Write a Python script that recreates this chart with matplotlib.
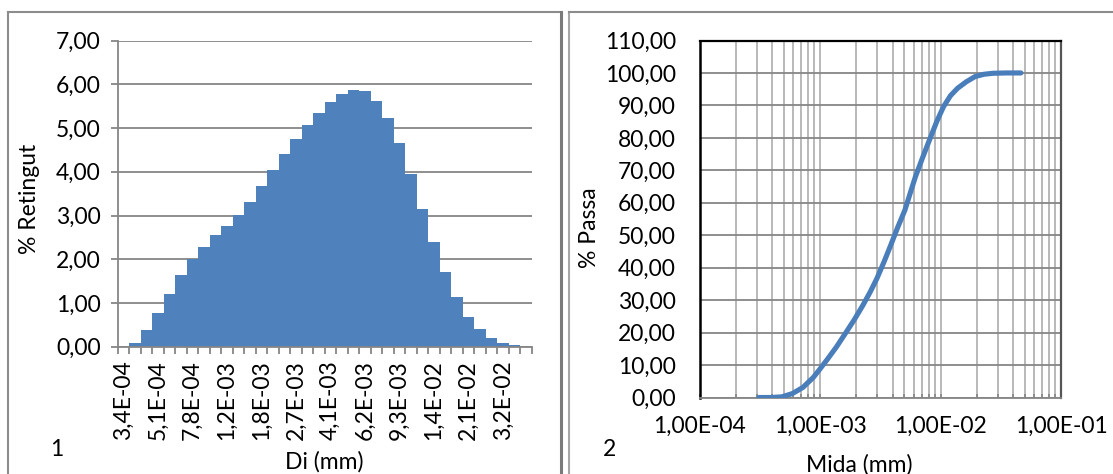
import matplotlib
matplotlib.use('Agg')
import matplotlib.pyplot as plt
from matplotlib.ticker import FixedLocator, LogLocator, NullFormatter, FuncFormatter
from matplotlib.lines import Line2D

plt.rcParams['font.family'] = ['Lato', 'DejaVu Sans']
plt.rcParams['font.size'] = 16.5

# histogram: % retained per size class (36 classes, every 3rd one labelled)
retingut = [0.00, 0.08, 0.39, 0.78, 1.21, 1.63, 2.00, 2.29, 2.55, 2.77,
            3.02, 3.32, 3.67, 4.04, 4.41, 4.76, 5.07, 5.35, 5.59, 5.78,
            5.88, 5.84, 5.63, 5.23, 4.65, 3.94, 3.16, 2.39, 1.71, 1.14,
            0.68, 0.40, 0.20, 0.08, 0.03, 0.00]
di_labels = ['3,4E-04', '5,1E-04', '7,8E-04', '1,2E-03', '1,8E-03', '2,7E-03',
             '4,1E-03', '6,2E-03', '9,3E-03', '1,4E-02', '2,1E-02', '3,2E-02']

# cumulative passing curve
mida = [3.11e-4, 3.94e-4, 4.82e-4, 5.89e-4, 7.21e-4, 8.81e-4, 1.0e-3, 1.153e-3,
        1.37e-3, 1.614e-3, 1.92e-3, 2.26e-3, 2.6e-3, 2.96e-3, 3.4e-3, 3.86e-3,
        4.4e-3, 5.06e-3, 5.6e-3, 6.19e-3, 7.1e-3, 8.09e-3, 9.3e-3, 1.059e-2,
        1.21e-2, 1.387e-2, 1.64e-2, 1.94e-2, 2.3e-2, 2.72e-2, 3.5e-2, 4.65e-2]
passa = [0.0, 0.0, 0.2, 1.2, 3.1, 6.2, 8.8, 11.8,
         15.6, 19.6, 23.9, 28.3, 32.4, 36.6, 41.8, 46.9,
         52.3, 57.7, 62.9, 68.0, 73.9, 79.3, 85.0, 89.6,
         93.0, 95.3, 97.3, 98.9, 99.6, 99.9, 100.0, 100.0]
mida_ticks = [1e-4, 1e-3, 1e-2, 1e-1]
mida_labels = ['1,00E-04', '1,00E-03', '1,00E-02', '1,00E-01']

W, H = 1113, 474
fig = plt.figure(figsize=(W / 100, H / 100), dpi=100)
fig.patch.set_facecolor('white')

def fx(px):
    return px / W

def fy(py):
    return 1 - py / H

comma = FuncFormatter(lambda v, p: f'{v:.2f}'.replace('.', ','))
grid_dark = '#868686'

# ---- chart 1
ax1 = fig.add_axes([fx(117.5), fy(346.7), (531.7 - 117.5) / W, (346.7 - 40.6) / H])
ax1.bar(range(len(retingut)), retingut, width=1.0, color='#4F81BD', zorder=2)
ax1.set_xlim(-0.5, len(retingut) - 0.5)
ax1.set_ylim(0, 7)
ax1.set_yticks(range(0, 8))
ax1.yaxis.set_major_formatter(comma)
ax1.yaxis.grid(True, color=grid_dark, lw=1.3)
ax1.set_axisbelow(True)
ax1.xaxis.set_major_locator(FixedLocator([i - 0.5 for i in range(len(retingut) + 1)]))
ax1.xaxis.set_major_formatter(NullFormatter())
ax1.set_xticks(range(0, len(retingut), 3), minor=True)
ax1.set_xticklabels(di_labels, minor=True, rotation=90)
ax1.tick_params(axis='x', which='major', length=5, width=1.3, color=grid_dark, direction='out')
ax1.tick_params(axis='x', which='minor', length=0, pad=10)
ax1.tick_params(axis='y', length=5, width=1.3, color=grid_dark, pad=7)
for s in ['top', 'right']:
    ax1.spines[s].set_visible(False)
for s in ['left', 'bottom']:
    ax1.spines[s].set_color(grid_dark)
    ax1.spines[s].set_linewidth(1.3)

# ---- chart 2
ax2 = fig.add_axes([fx(699.5), fy(397.5), (1061 - 699.5) / W, (397.5 - 40.5) / H])
ax2.set_xscale('log')
ax2.set_xlim(1e-4, 1e-1)
ax2.set_ylim(0, 110)
ax2.set_yticks(range(0, 111, 10))
ax2.yaxis.set_major_formatter(comma)
ax2.xaxis.set_major_locator(FixedLocator(mida_ticks))
ax2.set_xticklabels(mida_labels)
ax2.xaxis.set_minor_locator(LogLocator(base=10, subs=range(2, 10)))
ax2.xaxis.set_minor_formatter(NullFormatter())
ax2.yaxis.grid(True, color=grid_dark, lw=1.3)
ax2.xaxis.grid(True, which='both', color='#b3b3b3', lw=1.3)
ax2.set_axisbelow(True)
ax2.plot(mida, passa, color='#4A7EBB', lw=3.7, solid_capstyle='round',
         solid_joinstyle='round', zorder=3)
ax2.tick_params(axis='x', which='both', length=3, width=1.2, color=grid_dark,
                direction='in', pad=13)
ax2.tick_params(axis='y', length=0, pad=17)
ax2.spines['left'].set_color('black')
ax2.spines['left'].set_linewidth(1.8)
ax2.spines['top'].set_color('black')
ax2.spines['top'].set_linewidth(1.6)
ax2.spines['right'].set_color('#555555')
ax2.spines['right'].set_linewidth(1.6)
ax2.spines['bottom'].set_color(grid_dark)
ax2.spines['bottom'].set_linewidth(1.3)

# ---- panel frames
fig.add_artist(Line2D([fx(8.3), fx(8.3)], [fy(11.7), 0], color='#8c8c8c', lw=1.5))
fig.add_artist(Line2D([fx(8.3), fx(561)], [fy(11.7), fy(11.7)], color='#8c8c8c', lw=1.5))
fig.add_artist(Line2D([fx(561), fx(561)], [fy(11.7), 0], color='#7a7a7a', lw=2.2))
fig.add_artist(Line2D([fx(569), fx(569)], [fy(11.7), 0], color='#a6a6a6', lw=1.5))
fig.add_artist(Line2D([fx(569), 1], [fy(11.7), fy(11.7)], color='#8c8c8c', lw=1.5))

# ---- texts
fig.text(fx(30), fy(199), '% Retingut', rotation=90, ha='center', va='center')
fig.text(fx(324), fy(462), 'Di (mm)', ha='center', va='center')
fig.text(fx(57), fy(450), '1', ha='center', va='center')
fig.text(fx(589), fy(228), '% Passa', rotation=90, ha='center', va='center')
fig.text(fx(859), fy(465), 'Mida (mm)', ha='center', va='center')
fig.text(fx(610), fy(450), '2', ha='center', va='center')

fig.savefig('out.png', dpi=100, facecolor='white')
